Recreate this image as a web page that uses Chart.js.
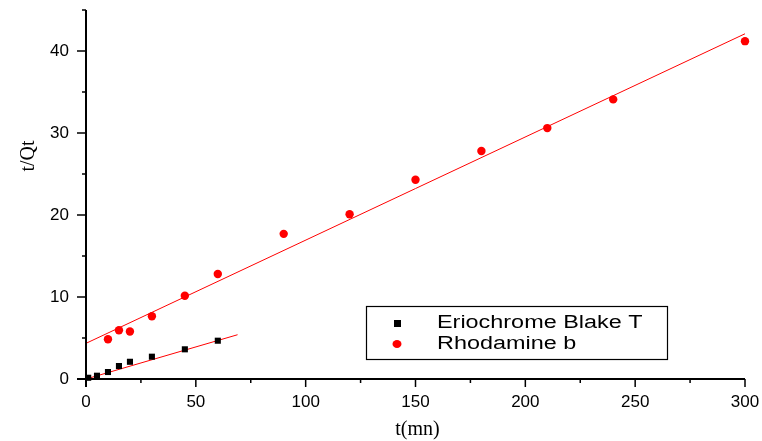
<!DOCTYPE html>
<html>
<head>
<meta charset="utf-8">
<script src="https://cdn.jsdelivr.net/npm/chart.js@4"></script>
<style>
html,body{margin:0;padding:0;background:#fff;}
#wrap{width:762px;height:441px;}
</style>
</head>
<body>
<div id="wrap"><canvas id="c" width="762" height="441"></canvas></div>
<script>
// ---- data ----
const seriesNames = ["Eriochrome Blake T", "Rhodamine b"];
const ebtTime = [1, 5, 10, 15, 20, 30, 45, 60];
const ebtValue = [0.15, 0.4, 0.85, 1.58, 2.1, 2.72, 3.62, 4.67];
const rhoTime = [10, 15, 20, 30, 45, 60, 90, 120, 150, 180, 210, 240, 300];
const rhoValue = [4.85, 5.95, 5.8, 7.65, 10.15, 12.8, 17.7, 20.1, 24.3, 27.8, 30.6, 34.1, 41.2];
const ebtFitX = [0, 69];
const ebtFitY = [0.0, 5.4];
const rhoFitX = [0, 300];
const rhoFitY = [4.35, 42.1];
const xTitle = "t(mn)";
const yTitle = "t/Qt";
const xMajor = [0, 50, 100, 150, 200, 250, 300];
const yMajor = [0, 10, 20, 30, 40];

const pts = (xs, ys) => xs.map((x, i) => ({x: x, y: ys[i]}));

const axesPlugin = {
  id: 'axesPlugin',
  afterDraw(chart) {
    const ctx = chart.ctx;
    const xs = chart.scales.x, ys = chart.scales.y;
    const ca = chart.chartArea;
    const x0 = xs.getPixelForValue(0), y0 = ys.getPixelForValue(0);
    ctx.save();
    ctx.strokeStyle = '#000';
    ctx.lineWidth = 2;
    ctx.beginPath();
    ctx.moveTo(x0, ys.getPixelForValue(45));
    ctx.lineTo(x0, y0 + 8);
    ctx.moveTo(x0 - 9, y0);
    ctx.lineTo(xs.getPixelForValue(300), y0);
    ctx.stroke();
    ctx.lineWidth = 1.5;
    ctx.beginPath();
    xs.ticks.forEach(t => {
      const px = xs.getPixelForValue(t.value);
      const major = xMajor.includes(t.value);
      ctx.moveTo(px, y0);
      ctx.lineTo(px, y0 + (major ? 8 : 4));
    });
    ys.ticks.forEach(t => {
      const py = ys.getPixelForValue(t.value);
      const major = yMajor.includes(t.value);
      ctx.moveTo(x0, py);
      ctx.lineTo(x0 - (major ? 9 : 4), py);
    });
    ctx.stroke();
    // axis titles
    ctx.fillStyle = '#000';
    ctx.font = '20px "Liberation Serif", "Times New Roman", serif';
    ctx.textAlign = 'center';
    ctx.textBaseline = 'middle';
    ctx.fillText(xTitle, (ca.left + ca.right) / 2 + 2, 430);
    ctx.save();
    ctx.translate(29, 156);
    ctx.rotate(-Math.PI / 2);
    ctx.fillText(yTitle, 0, 0);
    ctx.restore();
    // legend
    const lx = 366, ly = 306, lw = 301, lh = 53;
    ctx.lineWidth = 1.2;
    ctx.strokeStyle = '#000';
    ctx.strokeRect(lx + 0.5, ly + 0.5, lw, lh);
    ctx.fillStyle = '#000';
    ctx.fillRect(394, 320, 7, 7);
    ctx.fillStyle = '#ff0000';
    ctx.beginPath();
    ctx.ellipse(397, 344, 4.5, 4, 0, 0, Math.PI * 2);
    ctx.fill();
    ctx.font = '18px "Liberation Sans", Arial, sans-serif';
    ctx.textAlign = 'left';
    ctx.textBaseline = 'middle';
    ctx.fillStyle = '#000';
    [[seriesNames[0], 323], [seriesNames[1], 344]].forEach(([txt, yy]) => {
      ctx.save();
      ctx.translate(437, yy);
      ctx.scale(1.3, 1);
      ctx.fillText(txt, 0, 0);
      ctx.restore();
    });
    ctx.restore();
  }
};

new Chart(document.getElementById('c'), {
  type: 'scatter',
  data: {
    datasets: [
      {
        label: seriesNames[0] + ' fit', type: 'line', data: pts(ebtFitX, ebtFitY),
        borderColor: '#ff0000', borderWidth: 1, pointRadius: 0, fill: false, clip: false, order: 3
      },
      {
        label: seriesNames[1] + ' fit', type: 'line', data: pts(rhoFitX, rhoFitY),
        borderColor: '#ff0000', borderWidth: 1, pointRadius: 0, fill: false, clip: false, order: 3
      },
      {
        label: seriesNames[0], data: pts(ebtTime, ebtValue),
        pointStyle: 'rect', pointRadius: 4.3, backgroundColor: '#000', borderColor: '#000', borderWidth: 0,
        clip: false, order: 1
      },
      {
        label: seriesNames[1], data: pts(rhoTime, rhoValue),
        pointStyle: 'circle', pointRadius: 4.2, backgroundColor: '#ff0000', borderColor: '#ff0000', borderWidth: 0,
        clip: false, order: 2
      }
    ]
  },
  plugins: [axesPlugin],
  options: {
    responsive: false,
    animation: false,
    devicePixelRatio: 1,
    layout: { padding: { top: 10, right: 17, left: 0, bottom: 0 } },
    plugins: { legend: { display: false }, tooltip: { enabled: false } },
    scales: {
      x: {
        type: 'linear', min: 0, max: 300,
        afterFit(s) { s.height = 62; s.paddingLeft = 0; s.paddingRight = 0; },
        grid: { display: false },
        border: { display: false },
        ticks: {
          stepSize: 25, padding: 5, color: '#000',
          font: { family: '"Liberation Sans", Arial, sans-serif', size: 17 },
          maxRotation: 0, autoSkip: false,
          callback: v => xMajor.includes(v) ? String(v) : ''
        }
      },
      y: {
        type: 'linear', min: 0, max: 45,
        afterFit(s) { s.width = 86; s.paddingTop = 0; s.paddingBottom = 0; },
        grid: { display: false },
        border: { display: false },
        ticks: {
          stepSize: 5, padding: 9, color: '#000',
          font: { family: '"Liberation Sans", Arial, sans-serif', size: 17 },
          autoSkip: false,
          callback: v => yMajor.includes(v) ? String(v) : ''
        }
      }
    }
  }
});
</script>
</body>
</html>
